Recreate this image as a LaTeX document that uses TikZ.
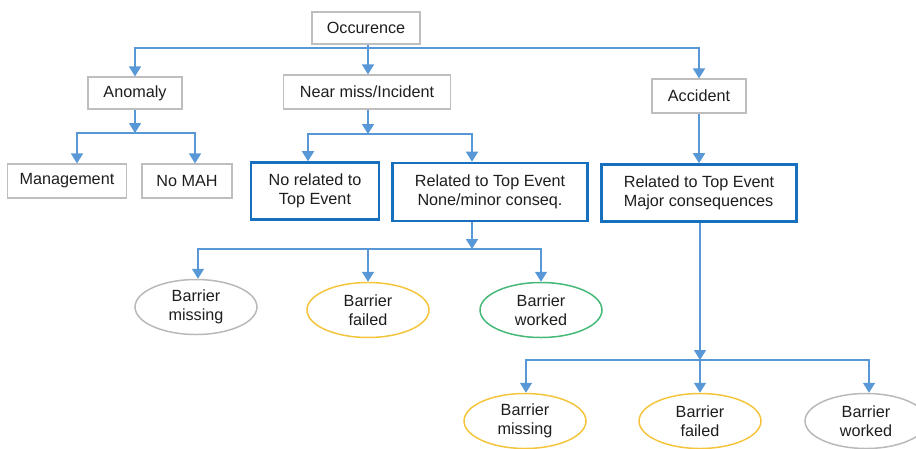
\documentclass[tikz,border=0pt]{standalone}
\usepackage{fontspec}
\setmainfont{Liberation Sans}
\usetikzlibrary{shapes.geometric,arrows.meta}
\definecolor{arrblue}{RGB}{88,152,214}
\definecolor{boxblue}{RGB}{22,112,190}
\definecolor{boxgray}{RGB}{190,190,190}
\definecolor{ellgray}{RGB}{185,185,185}
\definecolor{ellyellow}{RGB}{244,196,60}
\definecolor{ellgreen}{RGB}{70,185,120}
\definecolor{txt}{RGB}{30,30,30}
\tikzset{
  gbox/.style={draw=boxgray, line width=1.2pt, rectangle, inner sep=0pt, text=txt,
    font=\fontsize{16.2}{19}\selectfont, align=center},
  bbox/.style={draw=boxblue, line width=2.6pt, rectangle, inner sep=0pt, text=txt,
    font=\fontsize{16.2}{19}\selectfont, align=center},
  ell/.style={ellipse, line width=1.5pt, inner sep=0pt, minimum width=122pt, minimum height=55pt,
    text=txt, font=\fontsize{16.2}{19}\selectfont, align=center},
  conn/.style={draw=arrblue, line width=1.6pt},
  arr/.style={conn, -{Triangle[width=12pt,length=10pt]}},
}
\begin{document}
\begin{tikzpicture}[x=1pt,y=-1pt]
\useasboundingbox (0,0) rectangle (916,448);
\clip (0,0) rectangle (916,448);
% boxes
\node[gbox, minimum width=108pt, minimum height=32pt] (occ) at (366,28) {Occurence};
\node[gbox, minimum width=94pt, minimum height=32pt] (anom) at (135,93) {Anomaly};
\node[gbox, minimum width=167pt, minimum height=34pt] (near) at (367,92) {Near miss/Incident};
\node[gbox, minimum width=94pt, minimum height=34pt] (acc) at (699,96) {Accident};
\node[gbox, minimum width=119pt, minimum height=34pt] (mgmt) at (67,181) {Management};
\node[gbox, minimum width=90pt, minimum height=34pt] (nomah) at (187,181) {No MAH};
\node[bbox, minimum width=128pt, minimum height=57pt] (norel) at (315,191) {No related to\\Top Event};
\node[bbox, minimum width=195pt, minimum height=58pt] (relmin) at (490,192) {Related to Top Event\\None/minor conseq.};
\node[bbox, minimum width=195pt, minimum height=57pt] (relmaj) at (699,193) {\begin{tabular}{@{}l@{}}Related to Top Event\\Major consequences\end{tabular}};
% ellipses
\node[ell, draw=ellgray] (e1) at (196,307) {Barrier\\missing};
\node[ell, draw=ellyellow] (e2) at (368,310) {Barrier\\failed};
\node[ell, draw=ellgreen] (e3) at (541,310) {Barrier\\worked};
\node[ell, draw=ellyellow] (e4) at (525,421) {Barrier\\missing};
\node[ell, draw=ellyellow] (e5) at (700,421) {Barrier\\failed};
\node[ell, draw=ellgray] (e6) at (866,421) {Barrier\\worked};
% junction coordinates
\coordinate (j0) at (368,48);
\coordinate (j1) at (135,133);
\coordinate (j2) at (368,134);
\coordinate (j3) at (472,249);
\coordinate (j4) at (700,360);
% level 1
\draw[conn] (occ.south -| j0) -- (j0);
\draw[arr] (j0) -| (anom.north);
\draw[arr] (j0) -- (near.north -| j0);
\draw[arr] (j0) -| (acc.north);
% anomaly
\draw[arr] (anom.south) -- (j1);
\draw[arr] (j1) -| ([xshift=10pt]mgmt.north);
\draw[arr] (j1) -| ([xshift=8pt]nomah.north);
% near miss
\draw[arr] (near.south -| j2) -- (j2);
\draw[arr] (j2) -| ([xshift=-7pt]norel.north);
\draw[arr] (j2) -| ([xshift=-18pt]relmin.north);
% accident
\draw[arr] (acc.south) -- (relmaj.north);
% related minor
\draw[arr] (relmin.south -| j3) -- (j3);
\draw[arr] (j3) -| ([xshift=2pt]e1.north);
\draw[arr] (j3) -| (e2.north);
\draw[arr] (j3) -| (e3.north);
% related major
\draw[arr] (relmaj.south -| j4) -- (j4);
\draw[arr] (j4) -| ([xshift=1pt]e4.north);
\draw[arr] (j4) -- (e5.north);
\draw[arr] (j4) -| ([xshift=3pt]e6.north);
\end{tikzpicture}
\end{document}
